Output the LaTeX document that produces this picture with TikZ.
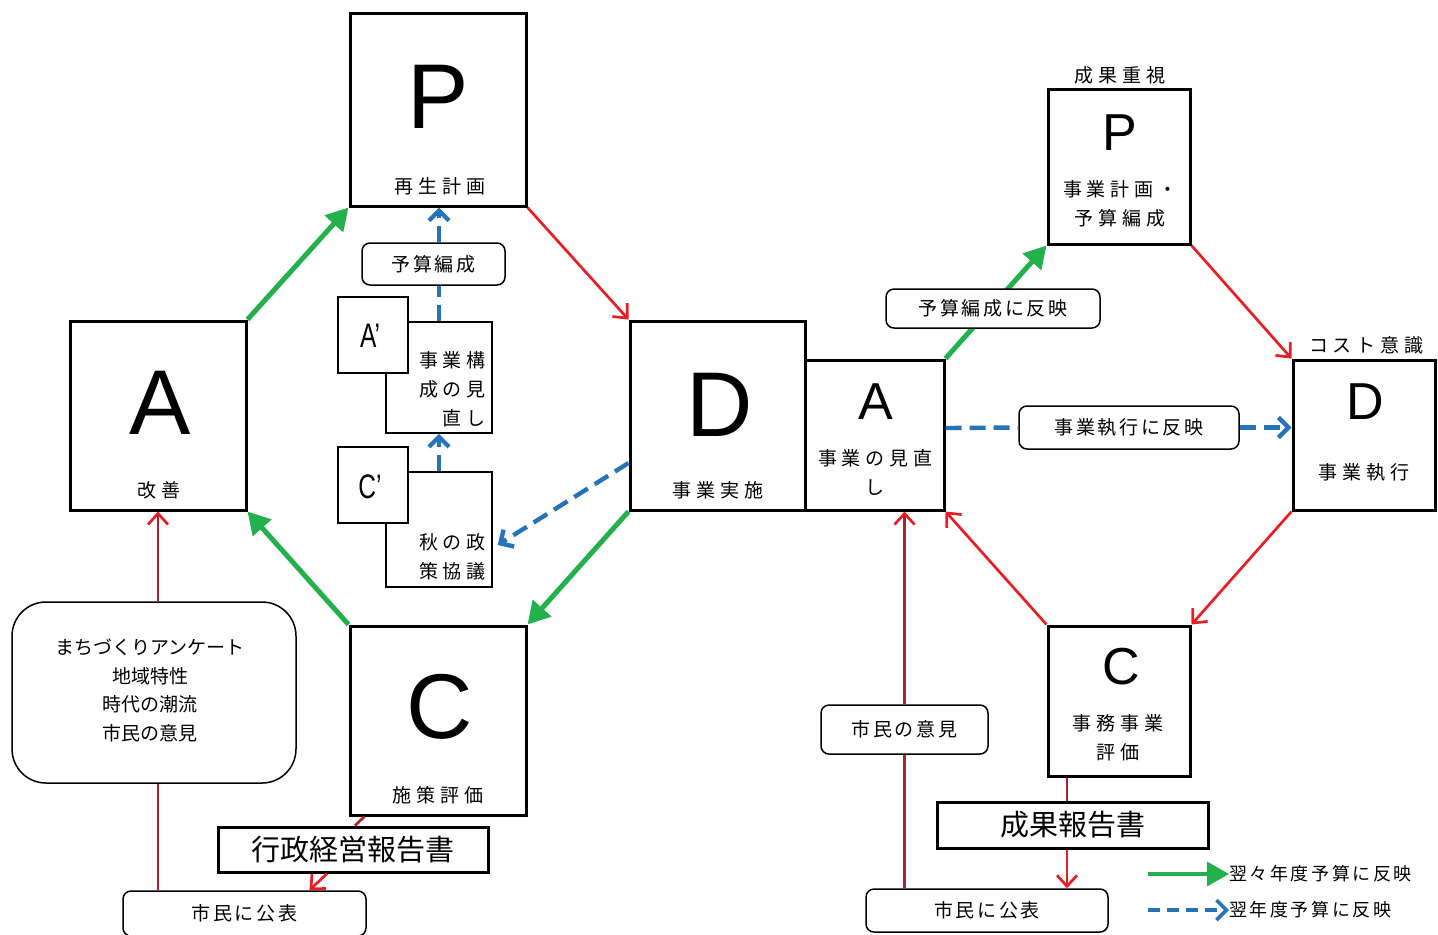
\documentclass[tikz,border=0pt]{standalone}
\usepackage{graphicx}
\usepackage{fontspec}
\newfontfamily\jp{Noto Sans CJK JP}
\newfontfamily\jps[LetterSpace=25]{Noto Sans CJK JP}
\newfontfamily\jpm[LetterSpace=14]{Noto Sans CJK JP}
\newfontfamily\lat{Liberation Sans}
\usetikzlibrary{arrows.meta,calc}
\definecolor{grn}{RGB}{34,177,76}
\definecolor{rd}{RGB}{232,30,36}
\definecolor{drd}{RGB}{170,35,40}
\definecolor{blu}{RGB}{38,115,185}
\tikzset{
 bigbox/.style={draw, line width=1.5pt, fill=white, inner sep=0pt},
 thinbox/.style={draw, line width=0.75pt, fill=white, inner sep=0pt},
 lbl/.style={draw, line width=0.75pt, rounded corners=4pt, fill=white, inner sep=0pt, font=\jpm\fontsize{9.5}{14}\selectfont},
 rep/.style={draw, line width=1.5pt, fill=white, inner sep=0pt, font=\jp\fontsize{14.5}{16}\selectfont},
 txt/.style={inner sep=0pt, font=\jps\fontsize{9.5}{14.5}\selectfont},
 bigL/.style={inner sep=0pt, font=\lat\fontsize{46}{46}\selectfont},
 midL/.style={inner sep=0pt, font=\lat\fontsize{26}{26}\selectfont},
 primeL/.style={inner sep=0pt, font=\lat\fontsize{17}{17}\selectfont},
 garr/.style={draw=grn, line width=2.5pt, -{Triangle[length=11pt,width=12pt]}},
 rarr/.style={draw=rd, line width=1.35pt, -{Straight Barb[length=5.5pt,width=10pt]}},
 rline/.style={draw=drd, line width=1.35pt},
 rvarr/.style={draw=drd, line width=1.35pt, -{Straight Barb[length=5.5pt,width=10pt,color=rd]}},
 bline/.style={draw=blu, line width=2.2pt, dash pattern=on 8pt off 4pt},
 barr/.style={draw=blu, line width=2.2pt, dash pattern=on 8pt off 4pt, -{Straight Barb[length=5pt,width=10pt]}},
}
\begin{document}
\begin{tikzpicture}[x=0.5pt,y=-0.5pt]
\useasboundingbox (0,0) rectangle (1438,934);
% main boxes
\node[bigbox, minimum width=88pt, minimum height=96.5pt] (Pl) at (438,109.5) {};
\node[bigbox, minimum width=88pt, minimum height=94.5pt] (Al) at (158,415.5) {};
\node[bigbox, minimum width=87.5pt, minimum height=94.5pt] (D) at (717.5,415.5) {};
\node[bigbox, minimum width=88pt, minimum height=94.5pt] (Cl) at (438,720.5) {};
\node[bigbox, minimum width=69.5pt, minimum height=75pt] (Ar) at (874.5,435) {};
\node[bigbox, minimum width=71pt, minimum height=77.5pt] (Pr) at (1119,166.5) {};
\node[bigbox, minimum width=71pt, minimum height=75pt] (Dr) at (1364,435) {};
\node[bigbox, minimum width=71pt, minimum height=75pt] (Cr) at (1119,701) {};
% texts in main boxes
\node[bigL] (tPl) at (438,97) {P};
\node[txt] (sPl) at (440,186) {再生計画};
\node[bigL] (tAl) at (160,403) {A};
\node[txt] (sAl) at (159,490) {改善};
\node[bigL] (tD) at (720,405) {D};
\node[txt] (sD) at (718,490) {事業実施};
\node[bigL] (tCl) at (440,707) {C};
\node[txt] (sCl) at (438,795) {施策評価};
\node[midL] (tAr) at (876,402) {A};
\node[txt, align=center] (sAr) at (875,472.5) {事業の見直\\し};
\node[midL] (tPr) at (1120,133) {P};
\node[txt, align=center] (sPr) at (1120,204) {事業計画・\\予算編成};
\node[midL] (tDr) at (1365,402) {D};
\node[txt] (sDr) at (1364,472) {事業執行};
\node[midL] (tCr) at (1121,667) {C};
\node[txt, align=center] (sCr) at (1118,737.5) {事務事業\\評価};
\node[txt] (seikaj) at (1120,75) {成果重視};
\node[txt] (cost) at (1366,345) {コスト意識};
% inner small boxes
\node[thinbox, minimum width=53pt, minimum height=55.5pt] (kosei) at (439,377.5) {};
\node[txt, align=right, anchor=east] (tkosei) at (486,389.5) {事業構\\成の見\\直し};
\node[thinbox, minimum width=35pt, minimum height=38pt] (Ap) at (373,335) {};
\node[primeL] (tAp) at (370,336) {\scalebox{0.72}[1]{A’}};
\node[thinbox, minimum width=53pt, minimum height=57.5pt] (aki) at (439,529.5) {};
\node[txt, align=right, anchor=east] (taki) at (486,557) {秋の政\\策協議};
\node[thinbox, minimum width=35pt, minimum height=38pt] (Cp) at (373,485) {};
\node[primeL] (tCp) at (370,487) {\scalebox{0.72}[1]{C’}};
% green arrows
\draw[garr] (Al.north east) -- (Pl.south west);
\draw[garr] (Cl.north west) -- (Al.south east);
\draw[garr] (D.south west) -- (Cl.north east);
\draw[garr] (Ar.north east) -- (Pr.south west);
% labels
\node[lbl, minimum width=71.5pt, minimum height=21pt] (yosan) at (433.5,264) {予算編成};
\node[lbl, minimum width=107pt, minimum height=19.5pt] (yhan) at (993,308.5) {予算編成に反映};
\node[lbl, minimum width=110pt, minimum height=21.5pt] (shikko) at (1129,427.5) {事業執行に反映};
\node[lbl, minimum width=83.5pt, minimum height=24.5pt] (iken) at (904.5,729.5) {市民の意見};
\node[rep, minimum width=135.5pt, minimum height=23pt] (seika) at (1072.5,825) {成果報告書};
\node[rep, minimum width=135pt, minimum height=22.5pt] (gy) at (353,849.5) {行政経営報告書};
\node[lbl, minimum width=121.5pt, minimum height=22.5pt] (kohyoL) at (244.5,913.5) {市民に公表};
\node[lbl, minimum width=121pt, minimum height=21.5pt] (kohyoR) at (987,910.5) {市民に公表};
\node[draw, line width=0.75pt, rounded corners=17pt, fill=white, minimum width=142pt, minimum height=90.5pt, inner sep=0pt] (enq) at (154,692.5) {};
\node[inner sep=0pt, align=center, font=\jp\fontsize{9.5}{14.25}\selectfont] (tenq) at (150,690.5) {まちづくりアンケート\\地域特性\\時代の潮流\\市民の意見};
% red arrows
\draw[rarr] (Pl.south east) -- (D.north west);
\draw[rarr] (Pr.south east) -- (Dr.north west);
\draw[rarr] (Dr.south west) -- (Cr.north east);
\draw[rarr] (Cr.north west) -- (Ar.south east);
% vertical red
\draw[rline] (kohyoL.north -| Al.south) -- (enq.south -| Al.south);
\draw[rvarr] (enq.north -| Al.south) -- (Al.south);
\draw[rline] (kohyoR.north -| iken.south) -- (iken.south);
\draw[rvarr] (iken.north) -- (iken.north |- Ar.south);
\draw[rline] ([xshift=8pt]Cl.south west) -- ([xshift=1pt]gy.north);
\draw[rarr] ([xshift=-13pt]gy.south) -- ([xshift=32.5pt]kohyoL.north);
\coordinate (cx) at ([xshift=-26pt]Cr.south);
\draw[rline] (cx) -- (cx |- seika.north);
\draw[rarr] (cx |- seika.south) -- (cx |- kohyoR.north);
% blue dashed
\draw[bline] (kosei.north) -- (kosei.north |- yosan.south);
\draw[barr] (kosei.north |- yosan.north) -- (kosei.north |- Pl.south);
\draw[barr] (aki.north) -- (kosei.south);
\draw[barr] ([yshift=-23.75pt]D.west) -- ([xshift=2.5pt,yshift=-7.75pt]aki.east);
\draw[bline] ([yshift=3.5pt]Ar.east) -- (shikko.west);
\draw[barr] (shikko.east) -- (shikko.east -| Dr.west);
% legend
\coordinate (lg1) at (1148,874);
\node[anchor=west, inner sep=0pt, font=\jpm\fontsize{9}{10}\selectfont] (lgt1) at (1229,874) {翌々年度予算に反映};
\draw[garr, line width=1.8pt] (lg1) -- (lgt1.west);
\coordinate (lg2) at (1148,910);
\node[anchor=west, inner sep=0pt, font=\jpm\fontsize{9}{10}\selectfont] (lgt2) at (1229,910) {翌年度予算に反映};
\draw[barr, line width=1.8pt, dash pattern=on 6pt off 3.5pt] (lg2) -- (lgt2.west);
\end{tikzpicture}
\end{document}
